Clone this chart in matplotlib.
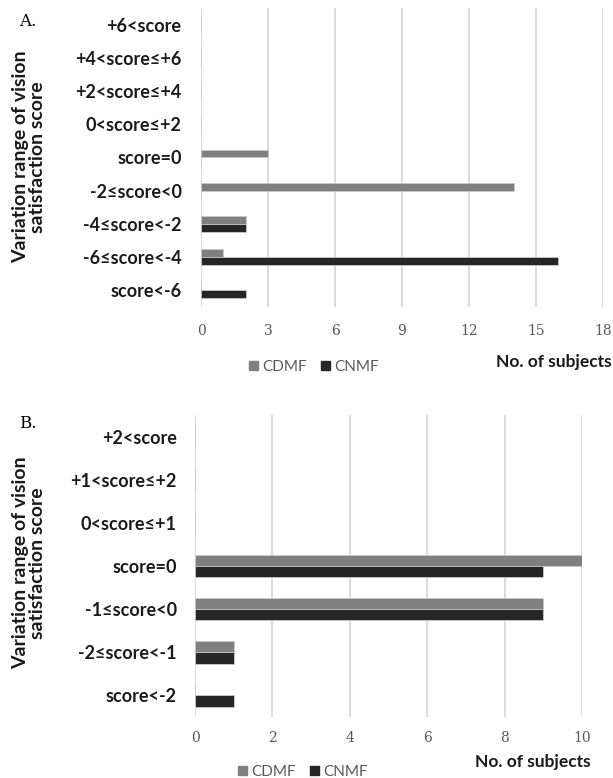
import numpy as np
import matplotlib
matplotlib.use('Agg')
import matplotlib.pyplot as plt
from matplotlib.patches import Patch

# panel A data (bottom to top)
cats_a = ['score<-6', '-6≤score<-4', '-4≤score<-2', '-2≤score<0', 'score=0',
          '0<score≤+2', '+2<score≤+4', '+4<score≤+6', '+6<score']
cdmf_a = [0, 1, 2, 14, 3, 0, 0, 0, 0]
cnmf_a = [2, 16, 2, 0, 0, 0, 0, 0, 0]
ticks_a = [0, 3, 6, 9, 12, 15, 18]

# panel B data (bottom to top)
cats_b = ['score<-2', '-2≤score<-1', '-1≤score<0', 'score=0',
          '0<score≤+1', '+1<score≤+2', '+2<score']
cdmf_b = [0, 1, 9, 10, 0, 0, 0]
cnmf_b = [1, 1, 9, 9, 0, 0, 0]
ticks_b = [0, 2, 4, 6, 8, 10]

C_CDMF = '#808080'
C_CNMF = '#262626'
C_GRID = '#d9d9d9'
C_TXT = '#595959'
FONTE = ['Lato', 'DejaVu Sans']

W, H = 613, 778
fig = plt.figure(figsize=(W / 100, H / 100), dpi=100)
fig.patch.set_facecolor('white')


def px_axes(left, top, right, bottom):
    return fig.add_axes([left / W, 1 - bottom / H, (right - left) / W, (bottom - top) / H])


def painel(ax, cats, cdmf, cnmf, ticks, h, ypad, xpad):
    y = np.arange(len(cats))
    ax.barh(y + h / 2, cdmf, height=h, color=C_CDMF, edgecolor='#c8c8c8', linewidth=0.6, zorder=3)
    ax.barh(y - h / 2, cnmf, height=h, color=C_CNMF, edgecolor='#c8c8c8', linewidth=0.6, zorder=3)
    ax.set_ylim(-0.5, len(cats) - 0.5)
    ax.set_xlim(ticks[0], ticks[-1])
    ax.set_xticks(ticks)
    ax.set_yticks(y)
    ax.set_yticklabels(cats, fontfamily=FONTE, fontweight='bold', fontsize=13, color='#1a1a1a')
    for lbl in ax.get_xticklabels():
        lbl.set_fontfamily('DejaVu Serif')
        lbl.set_fontsize(10)
        lbl.set_color(C_TXT)
    ax.tick_params(axis='y', length=0, pad=ypad)
    ax.tick_params(axis='x', length=0, pad=xpad)
    ax.grid(axis='x', color=C_GRID, linewidth=1.3, zorder=0)
    for s in ax.spines.values():
        s.set_visible(False)


ax_a = px_axes(201, 8, 603, 307)
painel(ax_a, cats_a, cdmf_a, cnmf_a, ticks_a, 0.24, 14, 12)

ax_b = px_axes(195, 415, 582, 717)
painel(ax_b, cats_b, cdmf_b, cnmf_b, ticks_b, 0.26, 13, 10)

ylab = 'Variation range of vision\nsatisfaction score'
fig.text(29 / W, 1 - 157 / H, ylab, rotation=90, ha='center', va='center',
         fontfamily=FONTE, fontweight='bold', fontsize=14, color='#1a1a1a', linespacing=1.0)
fig.text(29 / W, 1 - 563 / H, ylab, rotation=90, ha='center', va='center',
         fontfamily=FONTE, fontweight='bold', fontsize=14, color='#1a1a1a', linespacing=1.0)

fig.text(19 / W, 1 - 22 / H, 'A.', ha='left', va='center', fontfamily='DejaVu Serif', fontsize=12)
fig.text(19 / W, 1 - 423 / H, 'B.', ha='left', va='center', fontfamily='DejaVu Serif', fontsize=12)

fig.text(612 / W, 1 - 362 / H, 'No. of subjects', ha='right', va='center',
         fontfamily=FONTE, fontweight='bold', fontsize=12.5, color='#1a1a1a')
fig.text(591 / W, 1 - 762 / H, 'No. of subjects', ha='right', va='center',
         fontfamily=FONTE, fontweight='bold', fontsize=12.5, color='#1a1a1a')

handles = [Patch(color=C_CDMF, label='CDMF'), Patch(color=C_CNMF, label='CNMF')]
for cx, cy in [(314, 367), (303, 772)]:
    fig.legend(handles=handles, loc='center', bbox_to_anchor=(cx / W, 1 - cy / H), ncol=2,
               frameon=False, prop={'family': FONTE, 'size': 11}, labelcolor=C_TXT,
               handlelength=0.6, handleheight=0.6, handletextpad=0.3, columnspacing=0.9)

fig.savefig('out.png', dpi=100, facecolor='white')
